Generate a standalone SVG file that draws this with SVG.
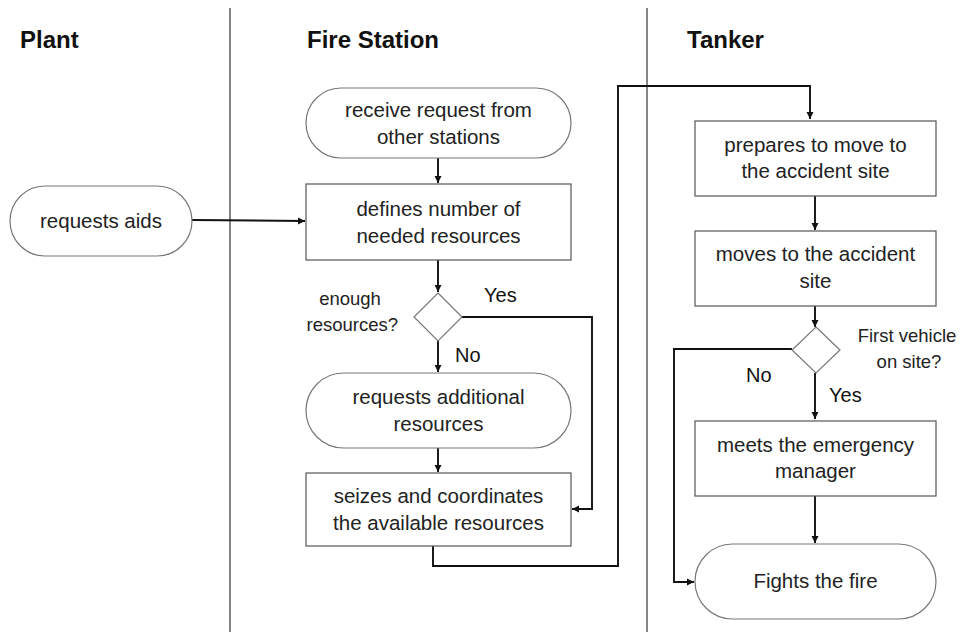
<svg xmlns="http://www.w3.org/2000/svg" width="961" height="632" viewBox="0 0 961 632">
  <style>
    .lane { stroke: #333; stroke-width: 1.2; fill: none; }
    .hdr { font-family: "Liberation Sans", Arial, sans-serif; font-weight: bold; font-size: 24px; fill: #111; }
    .box { fill: #fff; stroke: #555; stroke-width: 1.2; }
    .term { fill: #fff; stroke: #777; stroke-width: 1.2; }
    .txt { font-family: "Liberation Sans", Arial, sans-serif; font-size: 20.5px; fill: #222; text-anchor: middle; }
    .small { font-family: "Liberation Sans", Arial, sans-serif; font-size: 18.5px; fill: #222; }
    .lbl { font-family: "Liberation Sans", Arial, sans-serif; font-size: 20px; fill: #111; }
    .conn { fill: none; stroke: #111; stroke-width: 1.9; }
  </style>
  <defs>
    <marker id="arr" viewBox="0 0 10 10" refX="10" refY="5" markerWidth="7" markerHeight="8" orient="auto" markerUnits="userSpaceOnUse">
      <path d="M0,0 L10,5 L0,10 z" fill="#111"/>
    </marker>
  </defs>
  <rect width="961" height="632" fill="#fff"/>

  <!-- swimlane separators and headers -->
  <g id="lanes">
    <line class="lane" x1="230" y1="8" x2="230" y2="632"/>
    <line class="lane" x1="647" y1="8" x2="647" y2="632"/>
    <text class="hdr" x="20" y="48">Plant</text>
    <text class="hdr" x="307" y="48">Fire Station</text>
    <text class="hdr" x="687" y="48">Tanker</text>
  </g>

  <!-- connectors -->
  <g id="connectors">
    <path class="conn" d="M192,220 L305,221" marker-end="url(#arr)"/>
    <path class="conn" d="M438,158 L438,183" marker-end="url(#arr)"/>
    <path class="conn" d="M438,260 L438,292" marker-end="url(#arr)"/>
    <path class="conn" d="M462,317 L592,317 L592,509 L572,509" marker-end="url(#arr)"/>
    <path class="conn" d="M438,341 L438,372" marker-end="url(#arr)"/>
    <path class="conn" d="M438,448 L438,472" marker-end="url(#arr)"/>
    <path class="conn" d="M433,546 L433,566 L618,566 L618,86 L810,86 L810,119" marker-end="url(#arr)"/>
    <path class="conn" d="M815,196 L815,230" marker-end="url(#arr)"/>
    <path class="conn" d="M815,306 L815,327" marker-end="url(#arr)"/>
    <path class="conn" d="M792,349 L674,349 L674,582 L694,582" marker-end="url(#arr)"/>
    <path class="conn" d="M815,373 L815,419" marker-end="url(#arr)"/>
    <path class="conn" d="M815,496 L815,543" marker-end="url(#arr)"/>
    <text class="lbl" x="484" y="302">Yes</text>
    <text class="lbl" x="455" y="362">No</text>
    <text class="lbl" x="746" y="382">No</text>
    <text class="lbl" x="829" y="402">Yes</text>
  </g>

  <g id="requests-aids">
    <rect class="term" x="10" y="186" width="182" height="70" rx="35"/>
    <text class="txt" x="101" y="228">requests aids</text>
  </g>

  <g id="receive-request">
    <rect class="term" x="306" y="88" width="265" height="70" rx="35"/>
    <text class="txt" x="438.5" y="117">receive request from</text>
    <text class="txt" x="438.5" y="144">other stations</text>
  </g>

  <g id="defines-number">
    <rect class="box" x="306" y="184" width="265" height="76"/>
    <text class="txt" x="438.5" y="216">defines number of</text>
    <text class="txt" x="438.5" y="243">needed resources</text>
  </g>

  <g id="enough-resources">
    <path class="term" d="M438,293 L462,317 L438,341 L414,317 z"/>
    <text class="small" x="350" y="305" text-anchor="middle">enough</text>
    <text class="small" x="398" y="331" text-anchor="end">resources?</text>
  </g>

  <g id="requests-additional">
    <rect class="term" x="306" y="373" width="265" height="75" rx="37.5"/>
    <text class="txt" x="438.5" y="404">requests additional</text>
    <text class="txt" x="438.5" y="431">resources</text>
  </g>

  <g id="seizes-coordinates">
    <rect class="box" x="306" y="473" width="265" height="73"/>
    <text class="txt" x="438.5" y="503">seizes and coordinates</text>
    <text class="txt" x="438.5" y="530">the available resources</text>
  </g>

  <g id="prepares-move">
    <rect class="box" x="695" y="121" width="241" height="75"/>
    <text class="txt" x="815.5" y="152">prepares to move to</text>
    <text class="txt" x="815.5" y="178">the accident site</text>
  </g>

  <g id="moves-site">
    <rect class="box" x="695" y="231" width="241" height="75"/>
    <text class="txt" x="815.5" y="261">moves to the accident</text>
    <text class="txt" x="815.5" y="288">site</text>
  </g>

  <g id="first-vehicle">
    <path class="term" d="M816,327 L840,350 L816,373 L792,350 z"/>
    <text class="small" x="907" y="342" text-anchor="middle">First vehicle</text>
    <text class="small" x="909" y="368" text-anchor="middle">on site?</text>
  </g>

  <g id="meets-manager">
    <rect class="box" x="695" y="421" width="241" height="75"/>
    <text class="txt" x="815.5" y="452">meets the emergency</text>
    <text class="txt" x="815.5" y="478">manager</text>
  </g>

  <g id="fights-fire">
    <rect class="term" x="695" y="544" width="241" height="75" rx="37.5"/>
    <text class="txt" x="815.5" y="588">Fights the fire</text>
  </g>
</svg>
